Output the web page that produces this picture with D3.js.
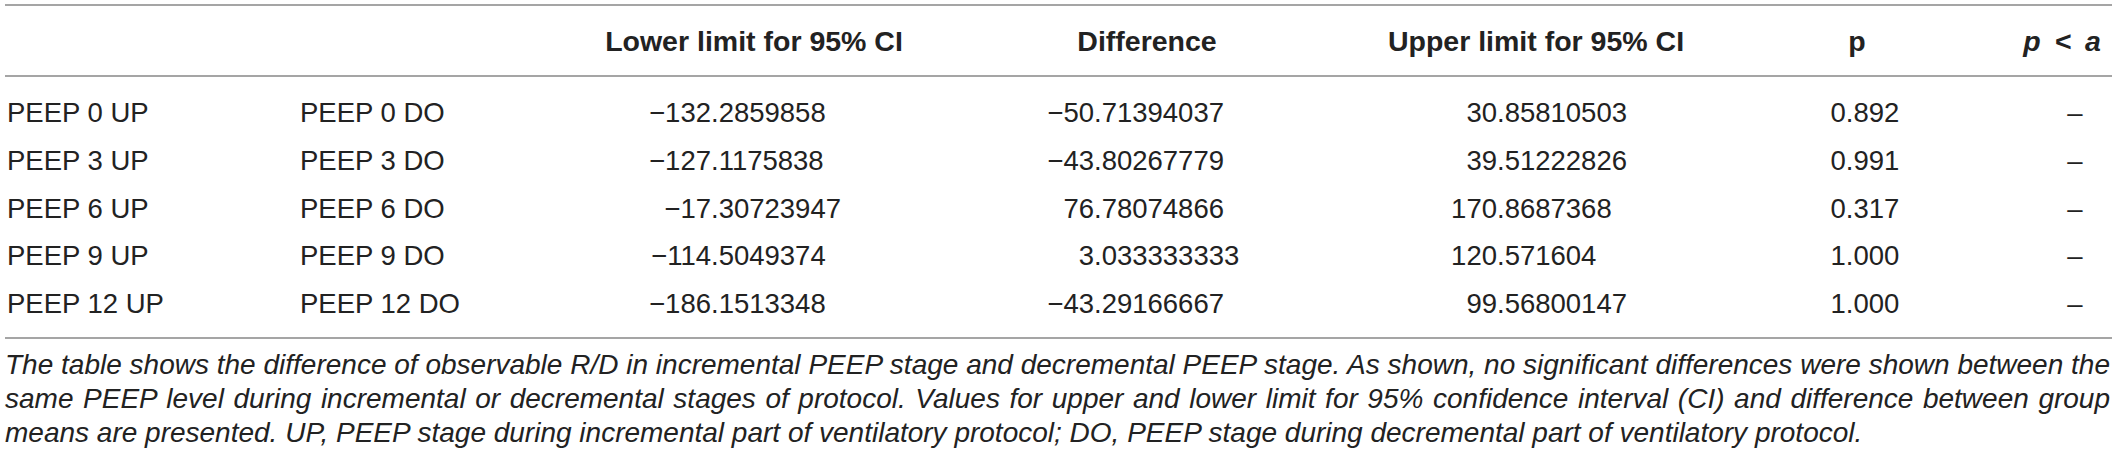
<!DOCTYPE html>
<html>
<head>
<meta charset="utf-8">
<script src="https://cdn.jsdelivr.net/npm/d3@7"></script>
<style>
  html, body { margin: 0; padding: 0; background: #fff; }
  svg { display: block; }
  text { font-family: "Liberation Sans", Arial, sans-serif; fill: #222; }
</style>
</head>
<body>
<svg id="table" width="2118" height="460"></svg>
<script>
const upStage   = ["PEEP 0 UP", "PEEP 3 UP", "PEEP 6 UP", "PEEP 9 UP", "PEEP 12 UP"];
const doStage   = ["PEEP 0 DO", "PEEP 3 DO", "PEEP 6 DO", "PEEP 9 DO", "PEEP 12 DO"];
const lowerCI   = [-132.2859858, -127.1175838, -17.30723947, -114.5049374, -186.1513348];
const diffMean  = [-50.71394037, -43.80267779, 76.78074866, 3.033333333, -43.29166667];
const upperCI   = [30.85810503, 39.51222826, 170.8687368, 120.571604, 99.56800147];
const pValue    = [0.892, 0.991, 0.317, 1.000, 1.000];
const signif    = ["–", "–", "–", "–", "–"];
const headers   = ["", "", "Lower limit for 95% CI", "Difference", "Upper limit for 95% CI", "p", "p < a"];
const caption = [
  "The table shows the difference of observable R/D in incremental PEEP stage and decremental PEEP stage. As shown, no significant differences were shown between the",
  "same PEEP level during incremental or decremental stages of protocol. Values for upper and lower limit for 95% confidence interval (CI) and difference between group",
  "means are presented. UP, PEEP stage during incremental part of ventilatory protocol; DO, PEEP stage during decremental part of ventilatory protocol."
];

const svg = d3.select("#table");
const left = 5, right = 2112;
const fs = 27.5;

// column anchors: text columns start, number columns aligned on the decimal point
const colX = [7, 300, 711, 1094, 1497, 1865, 2075];
const headX = [0, 0, 754, 1147, 1536, 1857, 2062];

const y = d3.scalePoint().domain(d3.range(upStage.length)).range([122, 313]);

const rule = (yy) => svg.append("line")
  .attr("x1", left).attr("x2", right).attr("y1", yy).attr("y2", yy)
  .attr("stroke", "#a5a5a5").attr("stroke-width", 2);

rule(5);
rule(76);
rule(338);

// header
svg.append("g").selectAll("text").data(headers.map((h, i) => ({ h, i })).filter(d => d.h))
  .join("text")
  .attr("x", d => headX[d.i]).attr("y", 51)
  .attr("text-anchor", "middle")
  .attr("font-size", 28.5).attr("font-weight", "bold")
  .attr("font-style", d => d.i === 6 ? "italic" : null)
  .attr("word-spacing", d => d.i === 6 ? 6 : null)
  .text(d => d.h);

const fmt = v => String(v).replace("-", "−");

// label columns
[upStage, doStage].forEach((col, c) => {
  svg.append("g").selectAll("text").data(col).join("text")
    .attr("x", colX[c]).attr("y", (_, i) => y(i))
    .attr("font-size", fs)
    .text(d => d);
});

// decimal aligned numeric columns
[lowerCI, diffMean, upperCI].forEach((col, c) => {
  const g = svg.append("g");
  const parts = col.map(v => { const s = fmt(v).split("."); return { int: s[0], frac: "." + (s[1] || "") }; });
  g.selectAll("text.int").data(parts).join("text").attr("class", "int")
    .attr("x", colX[c + 2]).attr("y", (_, i) => y(i))
    .attr("font-size", fs).attr("text-anchor", "end")
    .text(d => d.int);
  g.selectAll("text.frac").data(parts).join("text").attr("class", "frac")
    .attr("x", colX[c + 2]).attr("y", (_, i) => y(i))
    .attr("font-size", fs)
    .text(d => d.frac);
});

svg.append("g").selectAll("text").data(pValue).join("text")
  .attr("x", colX[5]).attr("y", (_, i) => y(i))
  .attr("font-size", fs).attr("text-anchor", "middle")
  .text(d => d.toFixed(3));

svg.append("g").selectAll("text").data(signif).join("text")
  .attr("x", colX[6]).attr("y", (_, i) => y(i))
  .attr("font-size", fs).attr("text-anchor", "middle")
  .text(d => d);

// caption, justified except last line
const capY = d3.scalePoint().domain(d3.range(caption.length)).range([374, 442]);
svg.append("g").selectAll("text").data(caption).join("text")
  .attr("x", left).attr("y", (_, i) => capY(i))
  .attr("font-size", 28).attr("font-style", "italic")
  .text(d => d)
  .each(function(d, i) {
    if (i === caption.length - 1) return;
    const natural = this.getComputedTextLength();
    const spaces = (d.match(/ /g) || []).length;
    d3.select(this).attr("word-spacing", (right - 2 - left - natural) / spaces);
  });
</script>
</body>
</html>
